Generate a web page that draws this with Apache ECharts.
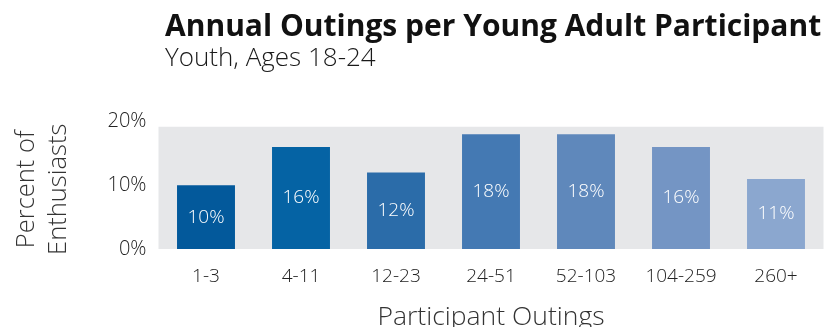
<!DOCTYPE html>
<html>
<head>
<meta charset="utf-8">
<script src="https://cdn.jsdelivr.net/npm/echarts@6/dist/echarts.min.js"></script>
<style>
  html, body { margin: 0; padding: 0; background: #ffffff; }
  #chart { width: 825px; height: 327px; }
</style>
</head>
<body>
<div id="chart"></div>
<script>
// Outing-frequency buckets and share of young adult participants (%)
const categories = ['1-3', '4-11', '12-23', '24-51', '52-103', '104-259', '260+'];
const shares = [10, 16, 12, 18, 18, 16, 11];
const barColors = ['#03599b', '#0563a4', '#2b6ca9', '#4479b3', '#5f88bb', '#7495c4', '#8ba7cf'];
const yTicks = [0, 10, 20];

const FONT = '"Open Sans", Lato, sans-serif';

const chart = echarts.init(document.getElementById('chart'), null, { renderer: 'canvas' });

chart.setOption({
  animation: false,
  backgroundColor: '#ffffff',
  title: {
    text: 'Annual Outings per Young Adult Participant',
    subtext: 'Youth, Ages 18-24',
    left: 160,
    top: 7,
    itemGap: 4,
    textStyle: { fontFamily: FONT, fontWeight: 'bold', fontSize: 30, color: '#111111' },
    subtextStyle: { fontFamily: FONT, fontWeight: 300, fontSize: 26, color: '#1a1a1a' }
  },
  grid: { left: 158.5, right: 1.5, top: 121.6, bottom: 78, containLabel: false, outerBoundsMode: 'none' },
  xAxis: {
    type: 'category',
    data: categories,
    axisLine: { show: false },
    axisTick: { show: false },
    axisLabel: { fontFamily: FONT, fontWeight: 300, fontSize: 19, color: '#222222', margin: 18 },
    name: 'Participant Outings',
    nameLocation: 'middle',
    nameGap: 55,
    nameTextStyle: { fontFamily: FONT, fontWeight: 300, fontSize: 26.5, color: '#333333' }
  },
  yAxis: {
    type: 'value',
    min: yTicks[0],
    max: yTicks[yTicks.length - 1],
    interval: 10,
    axisLine: { show: false },
    axisTick: { show: false },
    splitLine: { show: true, lineStyle: { color: '#ffffff', width: 2 } },
    axisLabel: { fontFamily: FONT, fontWeight: 300, fontSize: 20, color: '#222222', margin: 12, formatter: v => v + '%' },
    name: 'Percent of\nEnthusiasts',
    nameLocation: 'middle',
    nameRotate: 90,
    nameGap: 84,
    nameTextStyle: { fontFamily: FONT, fontWeight: 300, fontSize: 25.5, color: '#333333', lineHeight: 32, align: 'center', padding: [0, 8, 0, 0] }
  },
  series: [{
    type: 'bar',
    data: shares.map((v, i) => ({ value: v, itemStyle: { color: barColors[i] } })),
    barCategoryGap: '39%',
    z: 3,
    label: {
      show: true,
      position: 'inside',
      formatter: p => p.value + '%',
      fontFamily: FONT,
      fontWeight: 300,
      fontSize: 19,
      color: '#ffffff'
    },
    markArea: {
      silent: true,
      z: 0,
      itemStyle: { color: '#e6e7e9' },
      data: [[{ yAxis: 0 }, { yAxis: 19.2 }]]
    }
  }]
});
</script>
</body>
</html>
